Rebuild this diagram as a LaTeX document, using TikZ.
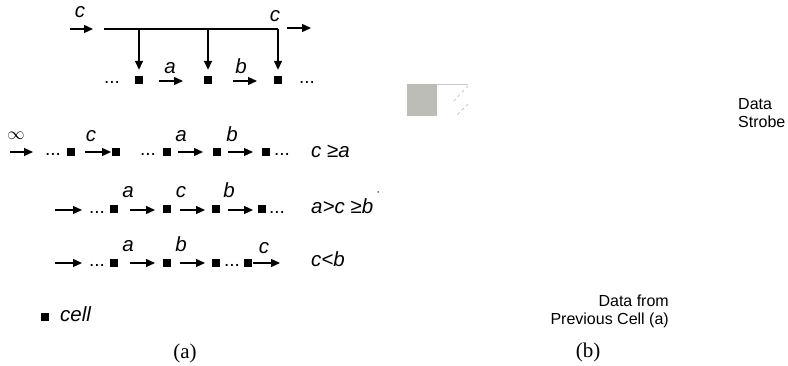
\documentclass[tikz,border=0pt]{standalone}
\usepackage{fontspec}
\setmainfont{Liberation Sans}
\newfontfamily\seriffam{Liberation Serif}
\usetikzlibrary{arrows.meta}
\definecolor{boxgray}{RGB}{189,189,184}
\definecolor{faint}{RGB}{200,200,200}
\begin{document}
\begin{tikzpicture}[x=1pt,y=-1pt,
  cellsq/.style={fill=black,inner sep=0pt,minimum size=8pt},
  arr/.style={line width=1.4pt,-{Triangle[length=9pt,width=8pt]}},
  bus/.style={line width=1.4pt},
  lbl/.style={font=\fontsize{20.5}{22}\selectfont\itshape,inner sep=0pt,anchor=base},
  cond/.style={font=\fontsize{20.5}{22}\selectfont\itshape,inner sep=0pt,anchor=base west},
  dotsn/.style={font=\fontsize{19}{21}\selectfont,inner sep=0pt,anchor=base},
  txt/.style={font=\fontsize{16}{18}\selectfont,inner sep=0pt,align=left},
  captext/.style={font=\fontsize{21}{23}\selectfont\seriffam,inner sep=0pt,anchor=base}]
\useasboundingbox (0,0) rectangle (788,366);

% ---------- top diagram ----------
\node[cellsq] (t1) at (139,80) {};
\node[cellsq] (t2) at (208,80) {};
\node[cellsq] (t3) at (278,80) {};
\coordinate (busL) at (104,29);
\coordinate (busR) at (278,29);
\draw[bus] (busL) -- (busR);
\draw[arr,shorten >=6pt] (busL -| t1) -- (t1.north);
\draw[arr,shorten >=6pt] (busL -| t2) -- (t2.north);
\draw[arr,shorten >=6pt] (busR) -- (t3.north);
\draw[arr] (70,29) -- (93,29);
\draw[arr] (287,28) -- (311,28);
\node[lbl] (tc1) at (80,18) {c};
\node[lbl] (tc2) at (275,22) {c};
\node[dotsn] (td1) at (112,84) {...};
\node[dotsn] (td2) at (307,84) {...};
\draw[arr] (t1) ++(20,1) coordinate (ta0) -- ++(24,0) coordinate (ta1);
\node[lbl] (ta) at (170,74) {a};
\draw[arr] (t2) ++(25,1) coordinate (tb0) -- ++(24,0) coordinate (tb1);
\node[lbl] (tb) at (241,74) {b};

% ---------- row 1 ----------
\node[lbl,font=\fontsize{16}{18}\selectfont] (inf) at (16,140) {$\infty$};
\draw[arr] (10,152) -- (33,152);
\node[dotsn] (r1d1) at (53,156) {...};
\node[cellsq] (r1s1) at (71,152) {};
\draw[arr] (85,152) -- (111,152);
\node[lbl] (r1c) at (91,142) {c};
\node[cellsq] (r1s2) at (116,152) {};
\node[dotsn] (r1d2) at (148,156) {...};
\node[cellsq] (r1s3) at (167,152) {};
\draw[arr] (178,152) -- (203,152);
\node[lbl] (r1a) at (181,142) {a};
\node[cellsq] (r1s4) at (217,152) {};
\draw[arr] (228,152) -- (253,152);
\node[lbl] (r1b) at (232,142) {b};
\node[cellsq] (r1s5) at (266,152) {};
\node[dotsn] (r1d3) at (282,156) {...};
\node[cond] (r1t) at (311,158) {c \kern0pt≥a};

% ---------- row 2 ----------
\draw[arr] (55,210) -- (82,210);
\node[dotsn] (r2d1) at (97,214) {...};
\node[cellsq] (r2s1) at (114,209) {};
\node[lbl] (r2a) at (128,198) {a};
\draw[arr] (130,210) -- (155,210);
\node[cellsq] (r2s2) at (167,209) {};
\node[lbl] (r2c) at (181,198) {c};
\draw[arr] (180,210) -- (205,210);
\node[cellsq] (r2s3) at (216,209) {};
\node[lbl] (r2b) at (229,198) {b};
\draw[arr] (228,210) -- (253,210);
\node[cellsq] (r2s4) at (262,209) {};
\node[dotsn] (r2d2) at (277,214) {...};
\node[cond] (r2t) at (311,214) {a>c \kern0pt≥b};
\node[circle,fill=black,inner sep=0pt,minimum size=1.5pt] (r2dot) at (378,192) {};

% ---------- row 3 ----------
\draw[arr] (55,263) -- (82,263);
\node[dotsn] (r3d1) at (97,267) {...};
\node[cellsq] (r3s1) at (114,263) {};
\node[lbl] (r3a) at (128,252) {a};
\draw[arr] (130,263) -- (155,263);
\node[cellsq] (r3s2) at (167,263) {};
\node[lbl] (r3b) at (181,252) {b};
\draw[arr] (180,263) -- (205,263);
\node[cellsq] (r3s3) at (216,263) {};
\node[dotsn] (r3d2) at (232,267) {...};
\node[cellsq] (r3s4) at (248,263) {};
\node[lbl] (r3c) at (264,254) {c};
\draw[arr] (253,263) -- (280,263);
\node[cond] (r3t) at (311,267) {c<b};

% ---------- legend and captions ----------
\node[cellsq] (legsq) at (45,317) {};
\node[cond] (legt) at (60,322) {cell};
\node[captext] (capa) at (185,359) {(a)};
\node[captext] (capb) at (588,358) {(b)};

% ---------- part (b) ----------
\fill[boxgray] (407,84) rectangle (437,116);
\draw[faint,line width=0.8pt] (437,84.5) -- (468,84.5);
\draw[faint,line width=0.8pt,dashed] (468,86) -- (452,103);
\draw[faint,line width=0.8pt,dashed] (468,104) -- (457,115);
\node[txt,anchor=north west] (strobe) at (738,98) {Data\\Strobe};
\node[txt,anchor=north east,align=right] (prev) at (669,295) {Data from\\Previous Cell (a)};
\end{tikzpicture}
\end{document}
